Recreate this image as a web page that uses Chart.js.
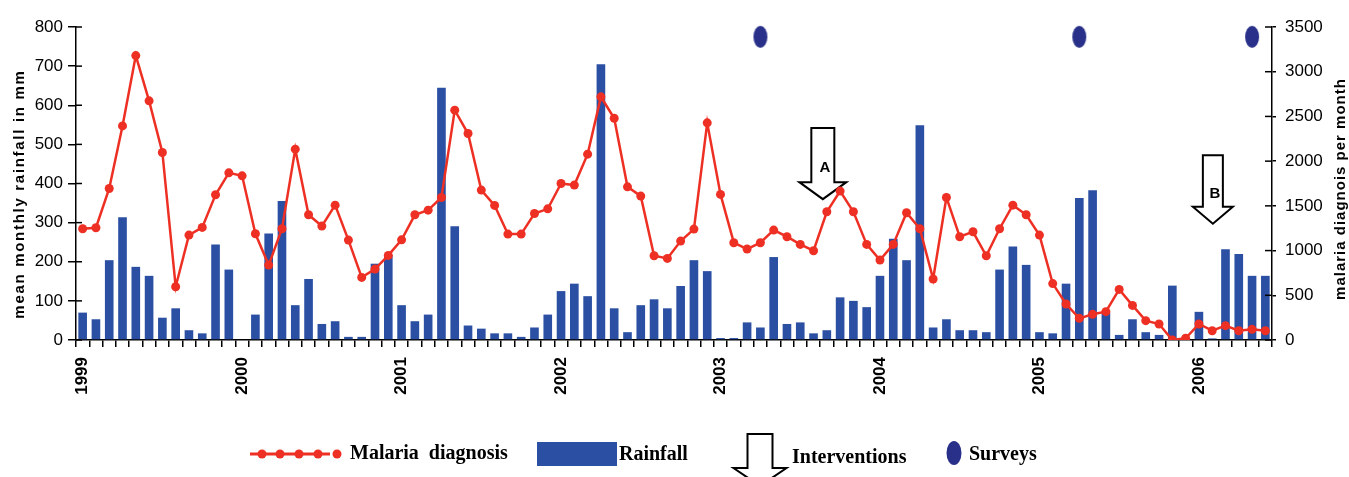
<!DOCTYPE html>
<html>
<head>
<meta charset="utf-8">
<script src="https://cdn.jsdelivr.net/npm/chart.js@4.4.0/dist/chart.umd.min.js"></script>
<style>
html, body { margin: 0; padding: 0; background: #fff; }
</style>
</head>
<body>
<canvas id="chart" width="1349" height="477"></canvas>
<script>
// monthly series, Jan 1999 - Jun 2006
const years = ['1999', '2000', '2001', '2002', '2003', '2004', '2005', '2006'];
const months = ['01', '02', '03', '04', '05', '06', '07', '08', '09', '10', '11', '12'];

const rainfall = [
    70, 53, 204, 314, 187, 164, 57, 81, 25, 17, 244, 180,
    0, 65, 272, 355, 89, 156, 41, 48, 8, 8, 195, 217,
    89, 48, 65, 645, 291, 37, 29, 17, 17, 8, 32, 65,
    125, 144, 112, 705, 81, 20, 89, 104, 81, 138, 204, 176,
    5, 5, 45, 32, 212, 41, 45, 17, 25, 109, 100, 84,
    164, 259, 204, 549, 32, 53, 25, 25, 20, 180, 239, 192,
    20, 17, 144, 363, 383, 70, 13, 53, 20, 13, 139, 0,
    72, 4, 232, 220, 164, 164
];

const malaria = [
    1244, 1255, 1694, 2394, 3180, 2674, 2097, 596, 1173, 1259, 1624, 1869,
    1836, 1188, 838, 1244, 2134, 1400, 1274, 1508, 1117, 700, 793, 946,
    1120, 1400, 1452, 1594, 2570, 2309, 1676, 1505, 1184, 1184, 1415, 1467,
    1750, 1732, 2078, 2719, 2480, 1713, 1609, 942, 912, 1106, 1240, 2428,
    1628, 1088, 1017, 1088, 1229, 1155, 1069, 998, 1434, 1665, 1434, 1069,
    894, 1069, 1423, 1244, 682, 1594, 1155, 1210, 942, 1244, 1508, 1400,
    1173, 631, 402, 242, 287, 317, 566, 387, 216, 179, 0, 19,
    179, 104, 160, 104, 119, 104
];

// surveys (month index) and interventions (month index, arrow top / tip on right axis)
const surveyMonths = [51, 75, 88];
const surveyLevel = 3390;
const interventionLabels = ['A', 'B'];
const interventionMonths = [55.7, 85.05];
const interventionTops = [2370, 2065];
const interventionTips = [1575, 1300];

const BAR_BLUE = '#2a4fa3';
const LINE_RED = '#ee3024';
const SURVEY_NAVY = '#283089';

const labels = [];
years.forEach(y => months.forEach(m => {
    if (labels.length < rainfall.length) labels.push(y + '-' + m);
}));

const surveyData = labels.map((l, i) => surveyMonths.includes(i) ? surveyLevel : null);

// ellipse marker for the surveys
const ellipse = document.createElement('canvas');
ellipse.width = 16;
ellipse.height = 24;
(function(){
    const c = ellipse.getContext('2d');
    c.fillStyle = SURVEY_NAVY;
    c.beginPath();
    c.ellipse(8, 12, 7, 11, 0, 0, Math.PI * 2);
    c.fill();
})();

function drawArrow(ctx, xc, yTop, yTip, boxW, headW, headH){
    const yNeck = yTip - headH;
    ctx.beginPath();
    ctx.moveTo(xc - boxW / 2, yTop);
    ctx.lineTo(xc + boxW / 2, yTop);
    ctx.lineTo(xc + boxW / 2, yNeck);
    ctx.lineTo(xc + headW / 2, yNeck);
    ctx.lineTo(xc, yTip);
    ctx.lineTo(xc - headW / 2, yNeck);
    ctx.lineTo(xc - boxW / 2, yNeck);
    ctx.closePath();
    ctx.fillStyle = '#fff';
    ctx.fill();
    ctx.strokeStyle = '#000';
    ctx.lineWidth = 2;
    ctx.stroke();
}

const extras = {
    id: 'extras',
    beforeDatasetsDraw(chart){
        const ctx = chart.ctx;
        const x = chart.scales.x, y2 = chart.scales.y2;
        const sizes = [{box: 23, head: 47, h: 17}, {box: 20, head: 40, h: 17}];
        ctx.save();
        interventionLabels.forEach((lab, i) => {
            const xc = x.getPixelForValue(interventionMonths[i]);
            const top = y2.getPixelForValue(interventionTops[i]);
            const tip = y2.getPixelForValue(interventionTips[i]);
            drawArrow(ctx, xc, top, tip, sizes[i].box, sizes[i].head, sizes[i].h);
            ctx.fillStyle = '#000';
            ctx.font = 'bold 15px "Liberation Sans", Arial, sans-serif';
            ctx.textAlign = 'center';
            ctx.textBaseline = 'middle';
            ctx.fillText(lab, xc + 2, (top + tip - sizes[i].h) / 2 + 13);
        });
        ctx.restore();
    },
    afterDraw(chart){
        const ctx = chart.ctx;
        const area = chart.chartArea;
        const y = chart.scales.y, y2 = chart.scales.y2;
        ctx.save();

        // small ticks on the inside of both value axes
        ctx.strokeStyle = '#000';
        ctx.lineWidth = 1.5;
        y.ticks.forEach((t, i) => {
            const py = y.getPixelForTick(i);
            ctx.beginPath(); ctx.moveTo(area.left, py); ctx.lineTo(area.left + 6, py); ctx.stroke();
        });
        y2.ticks.forEach((t, i) => {
            const py = y2.getPixelForTick(i);
            ctx.beginPath(); ctx.moveTo(area.right, py); ctx.lineTo(area.right - 7, py); ctx.stroke();
        });

        // axis titles, both reading upwards
        ctx.fillStyle = '#000';
        ctx.font = 'bold 15px "Liberation Sans", Arial, sans-serif';
        ctx.textAlign = 'center';
        ctx.textBaseline = 'middle';
        ctx.letterSpacing = '1.7px';
        ctx.save();
        ctx.translate(20, 194);
        ctx.rotate(-Math.PI / 2);
        ctx.fillText('mean monthly rainfall in mm', 0, 0);
        ctx.restore();
        ctx.letterSpacing = '1px';
        ctx.save();
        ctx.translate(1341, 189);
        ctx.rotate(-Math.PI / 2);
        ctx.fillText('malaria diagnois per month', 0, 0);
        ctx.restore();
        ctx.letterSpacing = '0px';

        // legend
        ctx.strokeStyle = LINE_RED;
        ctx.fillStyle = LINE_RED;
        ctx.lineWidth = 3;
        ctx.beginPath(); ctx.moveTo(250, 454); ctx.lineTo(330, 454); ctx.stroke();
        [262, 280, 299, 318, 337].forEach(px => {
            ctx.beginPath(); ctx.arc(px, 454, 4.5, 0, Math.PI * 2); ctx.fill();
        });
        ctx.fillStyle = BAR_BLUE;
        ctx.fillRect(537, 442, 80, 24);
        ctx.fillStyle = SURVEY_NAVY;
        ctx.beginPath(); ctx.ellipse(954, 453, 7.5, 12, 0, 0, Math.PI * 2); ctx.fill();
        drawArrow(ctx, 760, 434, 486, 25, 53, 18);

        ctx.fillStyle = '#000';
        ctx.font = 'bold 20px "Liberation Serif", "Times New Roman", serif';
        ctx.textAlign = 'left';
        ctx.textBaseline = 'alphabetic';
        ctx.fillText('Malaria  diagnosis', 350, 459);
        ctx.fillText('Rainfall', 619, 460);
        ctx.fillText('Interventions', 792, 463);
        ctx.fillText('Surveys', 969, 460);
        ctx.restore();
    }
};

const tickFont = {family: '"Liberation Sans", Arial, sans-serif', size: 17};

new Chart(document.getElementById('chart'), {
    type: 'bar',
    data: {
        labels: labels,
        datasets: [{
            type: 'line',
            label: 'Surveys',
            data: surveyData,
            yAxisID: 'y2',
            showLine: false,
            pointStyle: ellipse,
            pointRadius: 8,
            clip: false,
            order: 0
        }, {
            type: 'line',
            label: 'Malaria diagnosis',
            data: malaria,
            yAxisID: 'y2',
            borderColor: LINE_RED,
            backgroundColor: LINE_RED,
            borderWidth: 2.5,
            pointRadius: 4.5,
            pointBorderWidth: 0,
            tension: 0,
            order: 1
        }, {
            type: 'bar',
            label: 'Rainfall',
            data: rainfall,
            yAxisID: 'y',
            backgroundColor: BAR_BLUE,
            barPercentage: 0.65,
            categoryPercentage: 1,
            order: 2
        }]
    },
    options: {
        responsive: false,
        animation: false,
        layout: {padding: {top: 27, left: 0, right: 0, bottom: 0}},
        plugins: {
            legend: {display: false},
            tooltip: {enabled: false}
        },
        scales: {
            x: {
                offset: true,
                grid: {offset: true, drawOnChartArea: false, color: '#000', lineWidth: 1.5, tickLength: 7},
                border: {color: '#000', width: 1.5},
                ticks: {
                    autoSkip: false,
                    minRotation: 90,
                    maxRotation: 90,
                    padding: 10,
                    color: '#000',
                    font: {family: tickFont.family, size: 17, weight: 'bold'},
                    callback: function(val, i){
                        return i % 12 === 0 ? years[i / 12] : '';
                    }
                },
                afterFit: s => { s.height = 137; }
            },
            y: {
                position: 'left',
                min: 0,
                max: 800,
                ticks: {stepSize: 100, color: '#000', font: tickFont, padding: 5},
                grid: {drawOnChartArea: false, color: '#000', lineWidth: 1.5, tickLength: 8},
                border: {color: '#000', width: 1.5},
                afterFit: s => { s.width = 76; }
            },
            y2: {
                position: 'right',
                min: 0,
                max: 3500,
                ticks: {stepSize: 500, color: '#000', font: tickFont, padding: 9, callback: v => String(v)},
                grid: {drawOnChartArea: false, color: '#000', lineWidth: 1.5, tickLength: 4},
                border: {color: '#000', width: 1.5},
                afterFit: s => { s.width = 77; }
            }
        }
    },
    plugins: [extras]
});
</script>
</body>
</html>
